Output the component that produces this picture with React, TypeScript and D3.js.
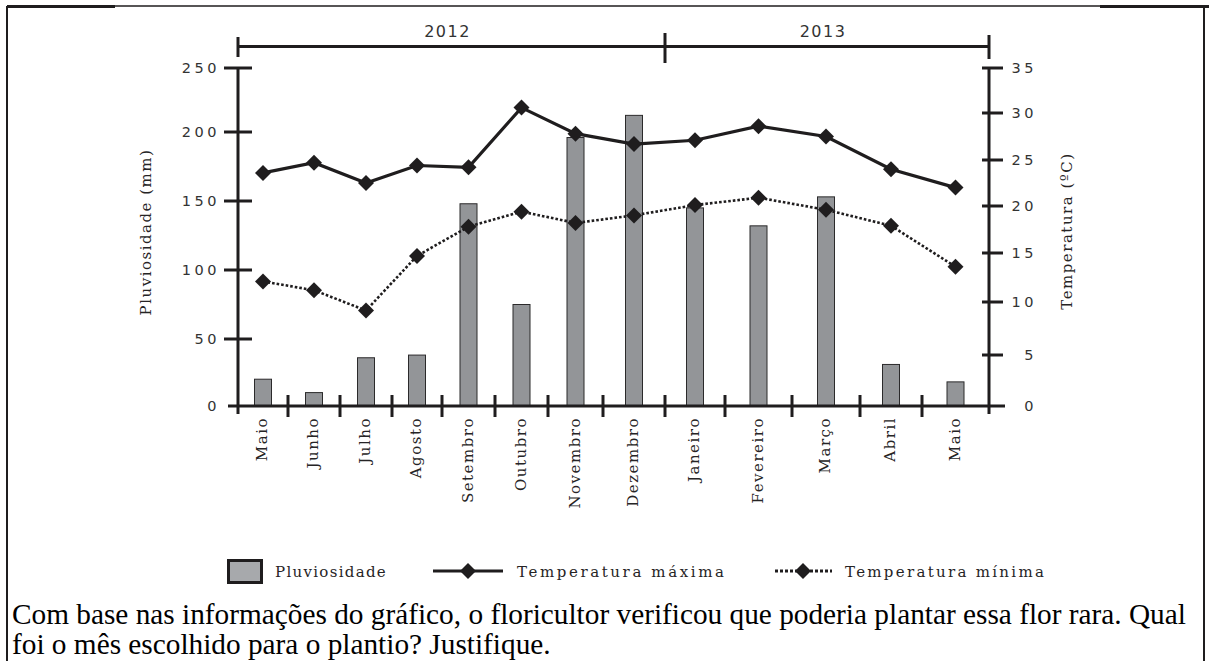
import React from 'react';
import * as d3 from 'd3';

// ---- data ----
const months = ['Maio', 'Junho', 'Julho', 'Agosto', 'Setembro', 'Outubro', 'Novembro', 'Dezembro', 'Janeiro', 'Fevereiro', 'Março', 'Abril', 'Maio'];
const rainfall = [20, 10, 36, 38, 148, 75, 196, 213, 145, 132, 153, 31, 18];
const tempMax = [23.6, 24.7, 22.5, 24.4, 24.2, 30.6, 27.8, 26.7, 27.1, 28.6, 27.5, 24.0, 22.0];
const tempMin = [12.1, 11.2, 9.2, 14.7, 17.8, 19.4, 18.2, 19.0, 20.1, 20.9, 19.6, 17.9, 13.6];
const rainTicks = [0, 50, 100, 150, 200, 250];
const tempTicks = [0, 5, 10, 15, 20, 25, 30, 35];
const yearLabels = ['2012', '2013'];
const yearStart = [0, 8];
const yearEnd = [8, 13];
const legendLabels = ['Pluviosidade', 'Temperatura máxima', 'Temperatura mínima'];
const questionLines = [
  'Com base nas informações do gráfico, o floricultor verificou que poderia plantar essa flor rara. Qual',
  'foi o mês escolhido para o plantio? Justifique.',
];

// ---- layout (hand-drawn axes in the original are not evenly spaced) ----
const X_EDGES = [238, 288, 340, 392, 442, 495, 548, 603, 665, 725, 792, 860, 922, 989];
const RAIN_RANGE = [406, 339, 270, 201, 132, 68];
const TEMP_RANGE = [406, 355, 302, 253, 206, 160, 113, 68];

const x = d3.scaleLinear().domain(d3.range(X_EDGES.length)).range(X_EDGES);
const yRain = d3.scaleLinear().domain(rainTicks).range(RAIN_RANGE);
const yTemp = d3.scaleLinear().domain(tempTicks).range(TEMP_RANGE);

const INK = '#1f1d1e';
const TXT = '#262425';
const BAR_W = 17;
const monoSans = 'DejaVu Sans, Verdana, sans-serif';
const slab = 'DejaVu Serif, serif';

const diamond = (cx: number, cy: number, r = 8) =>
  `M${cx},${cy - r}L${cx + r},${cy}L${cx},${cy + r}L${cx - r},${cy}Z`;

export default function App() {
  const cx = (i: number) => x(i + 0.5);
  const line = (scale: d3.ScaleLinear<number, number>) =>
    d3.line<number>().x((_, i) => cx(i)).y((d) => scale(d));
  const maxPath = line(yTemp)(tempMax) || '';
  const minPath = line(yTemp)(tempMin) || '';
  const x0 = X_EDGES[0];
  const x1 = X_EDGES[X_EDGES.length - 1];
  const base = yRain(0);
  const top = yRain(250);

  return (
    <svg
      width={1209}
      height={661}
      style={{ position: 'absolute', left: 0, top: 0, background: '#fff' }}
    >
      {/* frame */}
      <g stroke={INK} fill="none">
        <line x1={7} y1={6} x2={7} y2={661} strokeWidth={2} />
        <line x1={7} y1={6} x2={1204} y2={6} strokeWidth={1.5} />
        <line x1={1204} y1={6} x2={1204} y2={661} strokeWidth={2} />
        <line x1={7} y1={6.5} x2={115} y2={6.5} strokeWidth={3} />
        <line x1={1100} y1={6.5} x2={1209} y2={6.5} strokeWidth={3} />
      </g>

      {/* year bracket */}
      <g stroke={INK} strokeWidth={3}>
        <line x1={x0} y1={46.5} x2={x1} y2={46.5} />
        <line x1={x(0)} y1={37} x2={x(0)} y2={57} />
        <line x1={x(8)} y1={33} x2={x(8)} y2={63} />
        <line x1={x(13)} y1={35} x2={x(13)} y2={59} />
      </g>
      {yearLabels.map((lab, i) => (
        <text
          key={lab}
          x={(x(yearStart[i]) + x(yearEnd[i])) / 2 - 4}
          y={37}
          textAnchor="middle"
          fontFamily={monoSans}
          fontSize={16}
          letterSpacing={1.5}
          fill="#333"
        >
          {lab}
        </text>
      ))}

      {/* bars */}
      {rainfall.map((v, i) => (
        <rect
          key={i}
          x={cx(i) - BAR_W / 2}
          y={yRain(v)}
          width={BAR_W}
          height={base - yRain(v)}
          fill="#939598"
          stroke="#2b2a2b"
          strokeWidth={1}
        />
      ))}

      {/* axes */}
      <g stroke={INK} strokeWidth={3}>
        <line x1={x0} y1={top} x2={x0} y2={414} />
        <line x1={x1} y1={top} x2={x1} y2={414} />
        <line x1={228} y1={base} x2={1005} y2={base} />
        {rainTicks.filter((t) => t > 0).map((t) => (
          <line key={t} x1={224} y1={yRain(t)} x2={252} y2={yRain(t)} />
        ))}
        {tempTicks.filter((t) => t > 0).map((t) => (
          <line key={t} x1={982} y1={yTemp(t)} x2={1003} y2={yTemp(t)} />
        ))}
        {X_EDGES.slice(1, -1).map((e, i) => (
          <line key={i} x1={e} y1={395} x2={e} y2={417} />
        ))}
      </g>

      {/* tick labels */}
      {rainTicks.map((t) => (
        <text
          key={t}
          x={220}
          y={yRain(t)}
          dy="0.36em"
          textAnchor="end"
          fontFamily={monoSans}
          fontSize={14.5}
          letterSpacing={3.5}
          fill="#333"
        >
          {t}
        </text>
      ))}
      {tempTicks.map((t) => (
        <text
          key={t}
          x={1037}
          y={yTemp(t)}
          dy="0.36em"
          textAnchor="end"
          fontFamily={monoSans}
          fontSize={14.5}
          letterSpacing={3.5}
          fill="#333"
        >
          {t}
        </text>
      ))}

      {/* axis titles */}
      <text
        transform="translate(146,232) rotate(-90)"
        dy="0.35em"
        textAnchor="middle"
        fontFamily={slab}
        fontSize={15}
        letterSpacing={1.5}
        fill={TXT}
      >
        Pluviosidade (mm)
      </text>
      <text
        transform="translate(1067,231) rotate(-90)"
        dy="0.35em"
        textAnchor="middle"
        fontFamily={slab}
        fontSize={15}
        letterSpacing={1.5}
        fill={TXT}
      >
        Temperatura (ºC)
      </text>

      {/* month labels */}
      {months.map((m, i) => (
        <text
          key={i}
          transform={`translate(${cx(i) - 1},417) rotate(-90)`}
          dy="0.35em"
          textAnchor="end"
          fontFamily={slab}
          fontSize={15}
          letterSpacing={1.5}
          fill={TXT}
        >
          {m}
        </text>
      ))}

      {/* temperature lines */}
      <path d={minPath} fill="none" stroke={INK} strokeWidth={2.6} strokeDasharray="2.6,2" />
      <path d={maxPath} fill="none" stroke={INK} strokeWidth={3.2} />
      {tempMin.map((v, i) => (
        <path key={'n' + i} d={diamond(cx(i), yTemp(v))} fill={INK} />
      ))}
      {tempMax.map((v, i) => (
        <path key={'x' + i} d={diamond(cx(i), yTemp(v))} fill={INK} />
      ))}

      {/* legend */}
      <rect x={228.5} y={560.5} width={33} height={22} fill="#a7a9ac" stroke={INK} strokeWidth={3} />
      <text x={275} y={577} fontFamily={slab} fontSize={15} letterSpacing={1.3} fill={TXT}>
        {legendLabels[0]}
      </text>
      <line x1={433} y1={571} x2={503} y2={571} stroke={INK} strokeWidth={3} />
      <path d={diamond(468, 571)} fill={INK} />
      <text x={517} y={577} fontFamily={slab} fontSize={15} letterSpacing={2.6} fill={TXT}>
        {legendLabels[1]}
      </text>
      <line x1={775} y1={571} x2={832} y2={571} stroke={INK} strokeWidth={3} strokeDasharray="3,2" />
      <path d={diamond(803, 571)} fill={INK} />
      <text x={845} y={577} fontFamily={slab} fontSize={15} letterSpacing={2.3} fill={TXT}>
        {legendLabels[2]}
      </text>

      {/* question text */}
      {questionLines.map((l, i) => (
        <text
          key={i}
          x={12}
          y={624 + i * 30}
          fontFamily="Liberation Serif, Times New Roman, serif"
          fontSize={29.3}
          fill="#000"
        >
          {l}
        </text>
      ))}
    </svg>
  );
}
